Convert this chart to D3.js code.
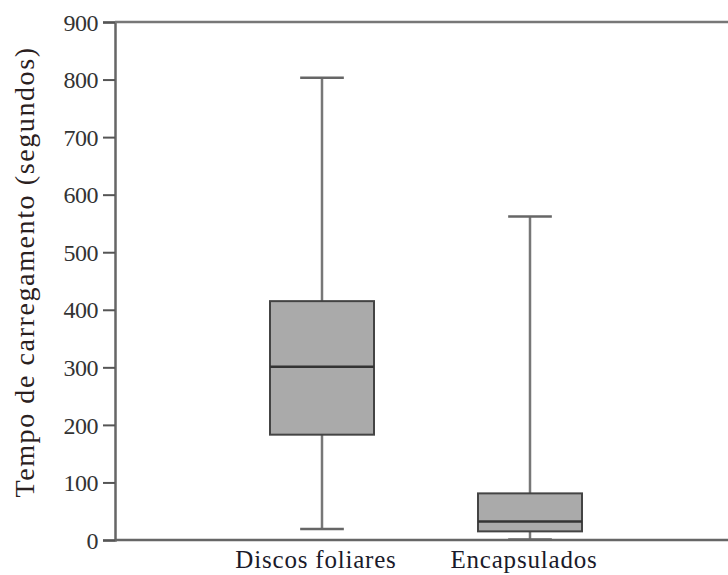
<!DOCTYPE html>
<html>
<head>
	<meta charset="utf-8">
	<title>boxplot</title>
	<script type="text/javascript" src="https://cdn.jsdelivr.net/npm/d3@7"></script>
	<style type="text/css">
		body{
			margin: 0;
			background-color: #fff;
		}
		text{
			font-family: "Liberation Serif", "DejaVu Serif", serif;
		}
	</style>
</head>
<body>
	<script type="text/javascript">
		var categories = ["Discos foliares", "Encapsulados"];
		var whiskerLow = [19, 1];
		var q1 = [183, 15];
		var median = [301, 32];
		var q3 = [415, 81];
		var whiskerHigh = [803, 562];
		var yTicks = [0, 100, 200, 300, 400, 500, 600, 700, 800, 900];
		var yLabel = "Tempo de carregamento (segundos)";

		var width = 728, height = 575;
		var mLeft = 115, mRight = 728, mTop = 22, mBottom = 540;

		var svg = d3.select('body').append('svg')
			.attr('width', width)
			.attr('height', height);

		var y = d3.scaleLinear().domain([0, 900]).range([mBottom, mTop]);
		var x = d3.scaleBand().domain(categories)
			.range([218, 634])
			.paddingInner(0.5)
			.paddingOuter(0.25);

		// y axis
		var yAxis = svg.append('g')
			.attr('transform', 'translate(' + mLeft + ',0)')
			.call(d3.axisLeft(y).tickValues(yTicks).tickSize(12).tickPadding(5));
		yAxis.select('.domain').attr('stroke', '#666').attr('stroke-width', 2.5);
		yAxis.selectAll('.tick line').attr('stroke', '#555').attr('stroke-width', 2);
		yAxis.selectAll('.tick text')
			.attr('fill', '#333')
			.attr('dy', '0.34em')
			.style('font-size', '24px')
			.style('letter-spacing', '-0.5px')
			.style('font-family', '"Liberation Serif", serif');

		// frame lines top / bottom
		svg.append('line')
			.attr('x1', mLeft).attr('x2', mRight)
			.attr('y1', y(900)).attr('y2', y(900))
			.attr('stroke', '#777').attr('stroke-width', 2.5);
		svg.append('line')
			.attr('x1', mLeft).attr('x2', mRight)
			.attr('y1', y(0)).attr('y2', y(0))
			.attr('stroke', '#666').attr('stroke-width', 2.5);

		// x labels
		svg.selectAll('.xlabel').data(categories).enter().append('text')
			.attr('class', 'xlabel')
			.attr('x', function(d){ return x(d) + x.bandwidth()/2 - 6; })
			.attr('y', 568)
			.attr('text-anchor', 'middle')
			.attr('fill', '#1a1a2a')
			.style('font-size', '25px')
			.style('letter-spacing', '0.8px')
			.text(function(d){ return d; });

		// y label
		svg.append('text')
			.attr('transform', 'translate(34,272) rotate(-90)')
			.attr('text-anchor', 'middle')
			.attr('fill', '#2a2020')
			.style('font-size', '28px')
			.style('letter-spacing', '1.6px')
			.text(yLabel);

		var boxes = svg.selectAll('.box').data(categories).enter().append('g')
			.attr('class', 'box');

		// whisker stems
		boxes.append('line')
			.attr('x1', function(d){ return x(d) + x.bandwidth()/2; })
			.attr('x2', function(d){ return x(d) + x.bandwidth()/2; })
			.attr('y1', function(d, i){ return y(whiskerLow[i]); })
			.attr('y2', function(d, i){ return y(whiskerHigh[i]); })
			.attr('stroke', '#777').attr('stroke-width', 2.5);

		// caps
		[whiskerLow, whiskerHigh].forEach(function(arr){
			boxes.append('line')
				.attr('x1', function(d){ return x(d) + x.bandwidth()*0.29; })
				.attr('x2', function(d){ return x(d) + x.bandwidth()*0.71; })
				.attr('y1', function(d, i){ return y(arr[i]); })
				.attr('y2', function(d, i){ return y(arr[i]); })
				.attr('stroke', '#666').attr('stroke-width', 2.5);
		});

		// box
		boxes.append('rect')
			.attr('x', function(d){ return x(d); })
			.attr('width', x.bandwidth())
			.attr('y', function(d, i){ return y(q3[i]); })
			.attr('height', function(d, i){ return y(q1[i]) - y(q3[i]); })
			.attr('fill', '#aaaaaa')
			.attr('stroke', '#444')
			.attr('stroke-width', 2);

		// median
		boxes.append('line')
			.attr('x1', function(d){ return x(d); })
			.attr('x2', function(d){ return x(d) + x.bandwidth(); })
			.attr('y1', function(d, i){ return y(median[i]); })
			.attr('y2', function(d, i){ return y(median[i]); })
			.attr('stroke', '#333').attr('stroke-width', 2.5);
	</script>
</body>
</html>
